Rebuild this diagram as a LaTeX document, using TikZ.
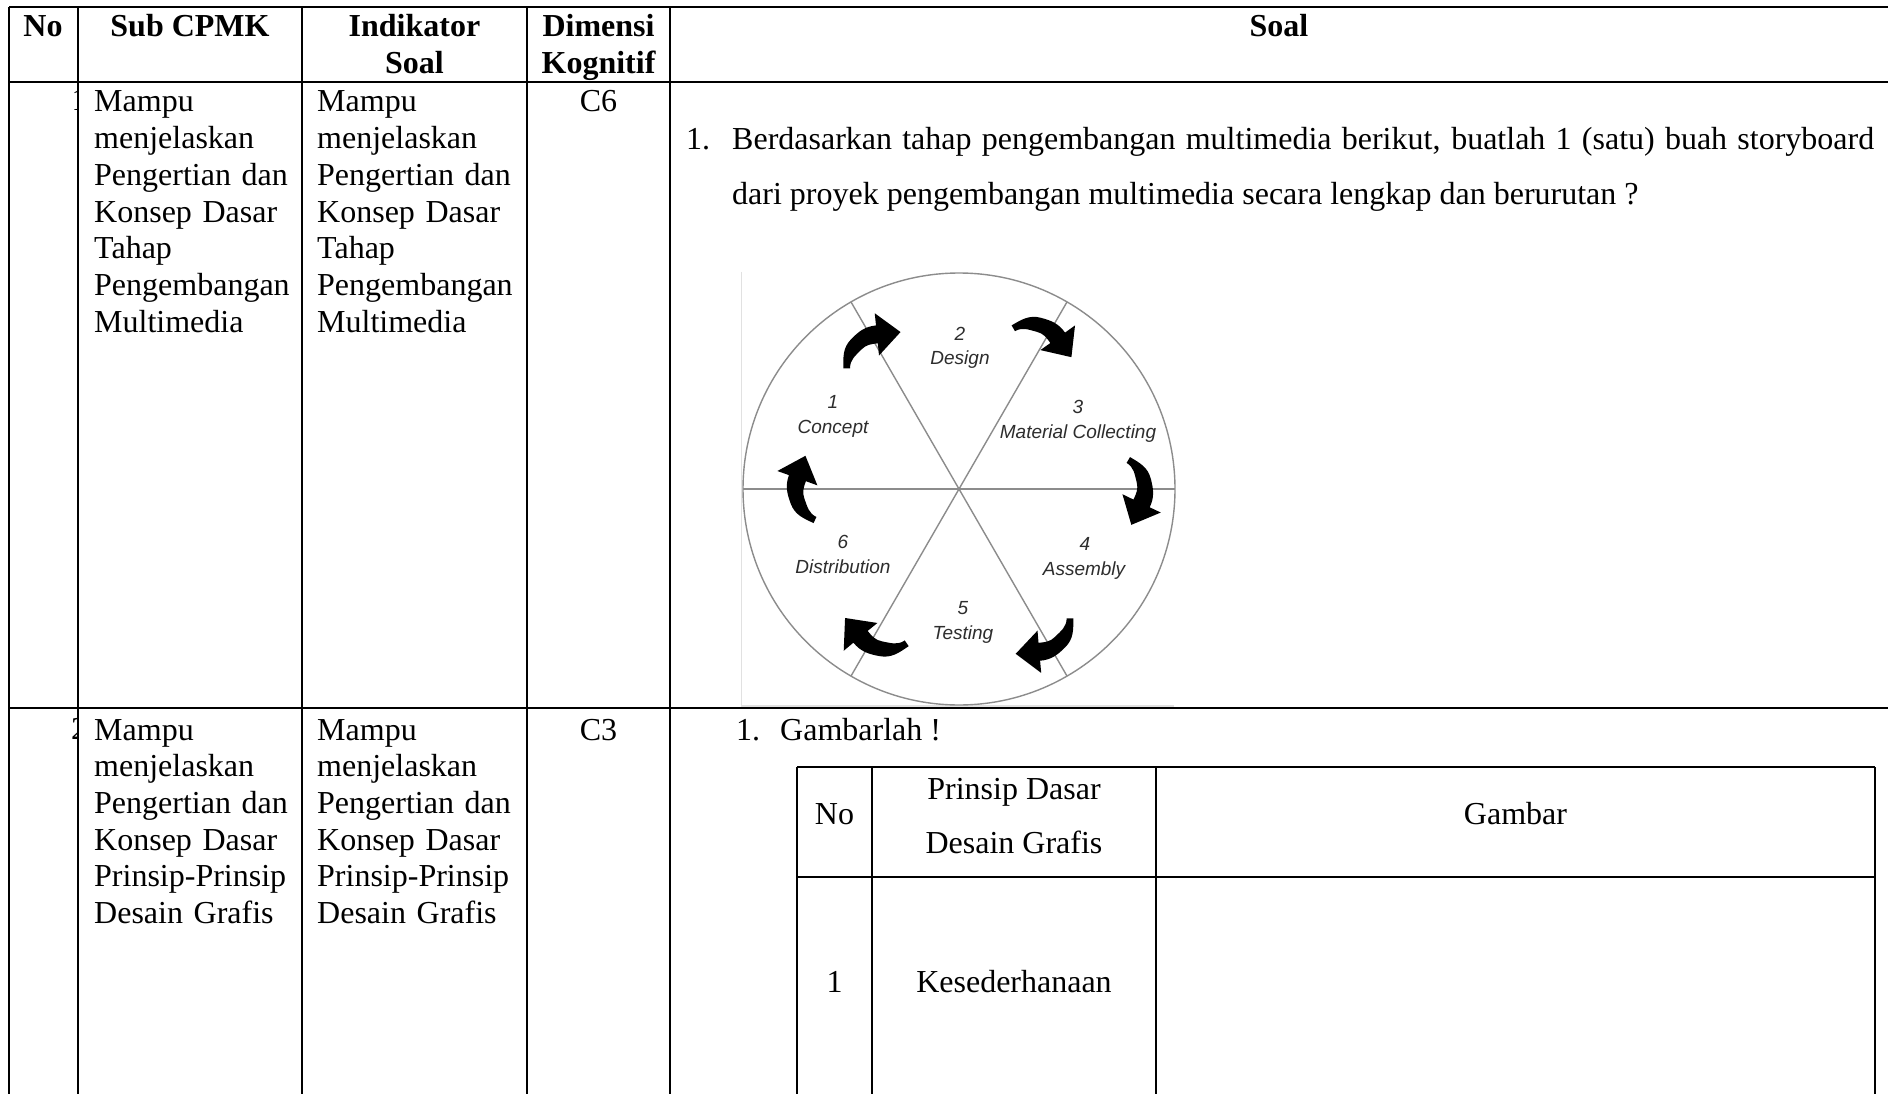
\documentclass[tikz,border=0pt]{standalone}
\usepackage{fontspec}
\usetikzlibrary{calc}
\setmainfont{Liberation Serif}
\newfontfamily\diagfont{Liberation Sans}
\definecolor{ring}{RGB}{140,140,140}
\definecolor{frame}{RGB}{225,225,225}
\definecolor{labelgray}{RGB}{45,45,45}
\tikzset{
  grid/.style={line width=2pt},
  thin grid/.style={line width=1.3pt},
  txt/.style={anchor=base west, inner sep=0pt, font=\fontsize{32}{36.7}\selectfont},
  ctxt/.style={anchor=base, inner sep=0pt, font=\fontsize{32}{36.7}\selectfont},
  cell/.style={anchor=base west, inner sep=0pt, align=left, text width=215pt,
    font=\fontsize{32}{36.7}\selectfont},
  hdr/.style={anchor=base, inner sep=0pt, font=\fontsize{32}{37}\selectfont\bfseries},
  lbl/.style={anchor=base, inner sep=0pt, text=labelgray,
    font=\diagfont\itshape\fontsize{19}{20}\selectfont},
  ringline/.style={draw=ring, line width=1.4pt},
  cycarrow/.pic={
    \fill[black] (-3,0) to[out=90,in=225] (4.2,25.8) to[out=45,in=185] (26.7,37.9)
      -- (25.7,48.8) -- (48.5,31.7) -- (29,11) -- (28.1,21.9)
      to[out=185,in=45] (13.4,16.6) to[out=225,in=90] (3,0) -- cycle;
  }
}
\begin{document}
\begin{tikzpicture}[x=1pt,y=1pt]
\fill[white] (0,0) rectangle (1888,-1094);
\useasboundingbox (0,0) rectangle (1888,-1094);

% ---- main table rules ----
\draw[grid] (9,-7) -- (1888,-7);
\draw[grid] (9,-82) -- (1888,-82);
\draw[grid] (9,-708) -- (1888,-708);
\foreach \cx in {9,78,302,527,670}
  \draw[grid] (\cx,-7) -- (\cx,-1094);

% ---- header ----
\node[hdr] (hno)   at (43,-37)    {No};
\node[hdr] (hsub)  at (190,-37)   {Sub CPMK};
\node[hdr] (hind1) at (414.5,-37) {Indikator};
\node[hdr] (hind2) at (414.5,-74) {Soal};
\node[hdr] (hdim1) at (598.5,-37) {Dimensi};
\node[hdr] (hdim2) at (598.5,-74) {Kognitif};
\node[hdr] (hsoal) at (1279,-37)  {Soal};

% ---- row numbers, cut by the column rule ----
\begin{scope}
  \clip (10,-83) rectangle (77,-1094);
  \node[txt] (r1no) at (71.5,-111) {1};
  \node[txt] (r2no) at (71,-739) {2};
\end{scope}

% ---- row 1 ----
\node[cell] (r1sub) at (94,-112)
  {Mampu\\menjelaskan\\Pengertian dan\\Konsep Dasar\\Tahap\\Pengembangan\\Multimedia};
\node[cell] (r1ind) at (317,-112)
  {Mampu\\menjelaskan\\Pengertian dan\\Konsep Dasar\\Tahap\\Pengembangan\\Multimedia};
\node[ctxt] (r1dim) at (598.5,-112) {C6};
\node[txt] (q1num) at (686,-150) {1.};
\node[txt] (q1a) at (732,-150)
  {\makebox[1142pt][s]{Berdasarkan tahap pengembangan multimedia berikut, buatlah 1 (satu) buah storyboard}};
\node[txt] (q1b) at (732,-205)
  {dari proyek pengembangan multimedia secara lengkap dan berurutan ?};

% ---- multimedia development cycle ----
\coordinate (cc) at (959,-489);
\draw[frame, line width=1.5pt] (741.5,-272) -- (741.5,-706) -- (1174,-706);
\draw[ringline] (cc) circle (216);
\draw[ringline] ($(cc)+(180:216)$) -- ($(cc)+(0:216)$);
\draw[ringline] ($(cc)+(120:216)$) -- ($(cc)+(300:216)$);
\draw[ringline] ($(cc)+(60:216)$) -- ($(cc)+(240:216)$);

\node[lbl] (n2) at (960,-340) {2};
\node[lbl] (l2) at (960,-364) {Design};
\node[lbl] (n1) at (833,-408) {1};
\node[lbl] (l1) at (833,-433) {Concept};
\node[lbl] (n3) at (1078,-413) {3};
\node[lbl] (l3) at (1078,-438) {Material Collecting};
\node[lbl] (n4) at (1085,-550) {4};
\node[lbl] (l4) at (1084,-575) {Assembly};
\node[lbl] (n5) at (963,-614) {5};
\node[lbl] (l5) at (963,-639) {Testing};
\node[lbl] (n6) at (843,-548) {6};
\node[lbl] (l6) at (843,-573) {Distribution};

\pic[rotate=0.8,    scale=1.12] at (846.7,-368.3)  {cycarrow};
\pic[rotate=-59.6,  scale=1.12] at (1013.3,-328.3) {cycarrow};
\pic[rotate=-120.5, scale=1.12] at (1128.3,-460)   {cycarrow};
\pic[rotate=-180,   scale=1.12] at (1070,-618.3)   {cycarrow};
\pic[rotate=-235.5, scale=1.15] at (906.7,-643.3)  {cycarrow};
\pic[rotate=-294.7, scale=1.12] at (815,-520)      {cycarrow};

% ---- row 2 ----
\node[cell] (r2sub) at (94,-740)
  {Mampu\\menjelaskan\\Pengertian dan\\Konsep Dasar\\Prinsip-Prinsip\\Desain Grafis};
\node[cell] (r2ind) at (317,-740)
  {Mampu\\menjelaskan\\Pengertian dan\\Konsep Dasar\\Prinsip-Prinsip\\Desain Grafis};
\node[ctxt] (r2dim) at (598.5,-740) {C3};
\node[txt] (q2num) at (736,-740) {1.};
\node[txt] (q2a) at (780,-740) {Gambarlah !};

% ---- inner answer table ----
\draw[grid] (797,-767) -- (1875,-767);
\draw[grid] (797,-877) -- (1875,-877);
\foreach \cx in {797,872,1156,1875}
  \draw[thin grid] (\cx,-767) -- (\cx,-1094);
\node[ctxt] (tno) at (834.5,-824) {No};
\node[ctxt] (tp1) at (1014,-799) {Prinsip Dasar};
\node[ctxt] (tp2) at (1014,-853) {Desain Grafis};
\node[ctxt] (tg)  at (1515.5,-824) {Gambar};
\node[ctxt] (t1)  at (834.5,-992) {1};
\node[ctxt] (tk)  at (1014,-992) {Kesederhanaan};
\end{tikzpicture}
\end{document}
